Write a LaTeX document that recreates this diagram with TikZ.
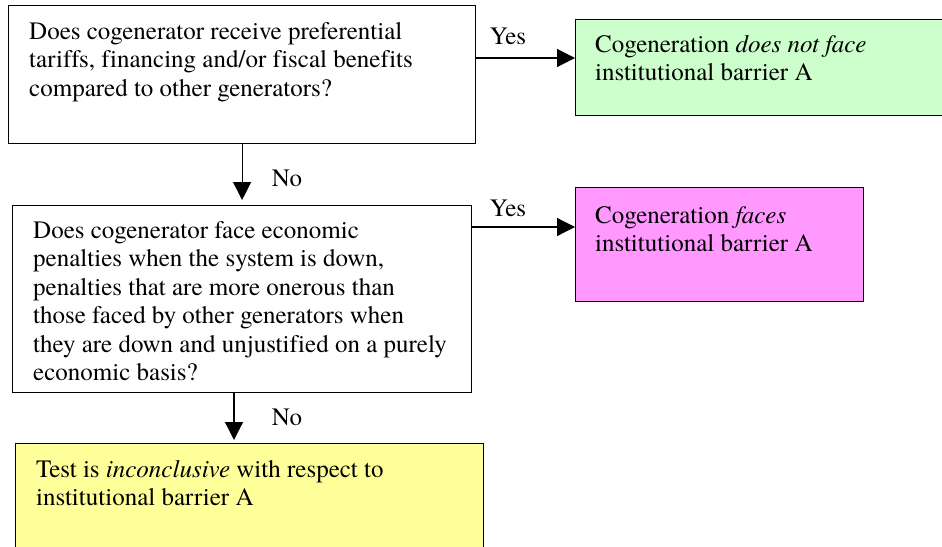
\documentclass[tikz,border=0pt]{standalone}
\usepackage{fontspec}
\setmainfont{texgyretermes}[Extension=.otf, UprightFont=*-regular, ItalicFont=*-italic, BoldFont=*-bold, Ligatures=NoCommon]
\usetikzlibrary{arrows.meta,positioning}
\definecolor{resgreen}{HTML}{CCFFCC}
\definecolor{respink}{HTML}{FF99FF}
\definecolor{resyellow}{HTML}{FFFF99}
\begin{document}
\begin{tikzpicture}[x=1pt, y=-1pt,
  box/.style={draw=black, line width=1.2pt, anchor=north west, inner sep=0pt},
  txt/.style={anchor=north west, align=left, inner sep=0pt, font=\fontsize{25}{28.5}\selectfont},
  lbl/.style={inner sep=0pt, font=\fontsize{25}{28.5}\selectfont},
  arr/.style={-{Triangle[length=18pt,width=18pt]}, line width=1.2pt}]
\useasboundingbox (0,0) rectangle (942,546);
\clip (0,0) rectangle (942,546);
\node[box, minimum width=467pt, minimum height=138pt] (q1) at (8,5) {};
\node[box, fill=resgreen, minimum width=380pt, minimum height=96pt] (res1) at (575,19) {};
\node[box, minimum width=459pt, minimum height=187pt] (q2) at (12,205) {};
\node[box, fill=respink, minimum width=288pt, minimum height=114pt] (res2) at (575,187) {};
\node[box, fill=resyellow, minimum width=468pt, minimum height=130pt] (res3) at (15,443) {};
\node[txt] (q1t) at (29,22) {Does cogenerator receive preferential\\tariffs, financing and/or fiscal benefits\\compared to other generators?};
\node[txt] (res1t) at (595,35) {Cogeneration \textit{does not face}\\institutional barrier A};
\node[txt] (q2t) at (33,221) {Does cogenerator face economic\\penalties when the system is down,\\penalties that are more onerous than\\those faced by other generators when\\they are down and unjustified on a purely\\economic basis?};
\node[txt] (res2t) at (595,206) {Cogeneration \textit{faces}\\institutional barrier A};
\node[txt] (res3t) at (36,460) {Test is \textit{inconclusive} with respect to\\institutional barrier A};
\node[lbl] (yes1) at (508,36) {Yes};
\node[lbl] (no1) at (287,178) {No};
\node[lbl] (yes2) at (508,208) {Yes};
\node[lbl] (no2) at (287,417) {No};
\draw[arr] (q1.east |- 0,58) -- (res1.west |- 0,58);
\draw[arr, shorten >=5pt] (q1.south) -- (q2.north);
\draw[arr] (q2.east |- 0,227) -- (res2.west |- 0,227);
\draw[arr, shorten >=3pt] (q2.south -| 234,0) -- (res3.north -| 234,0);
\end{tikzpicture}
\end{document}
